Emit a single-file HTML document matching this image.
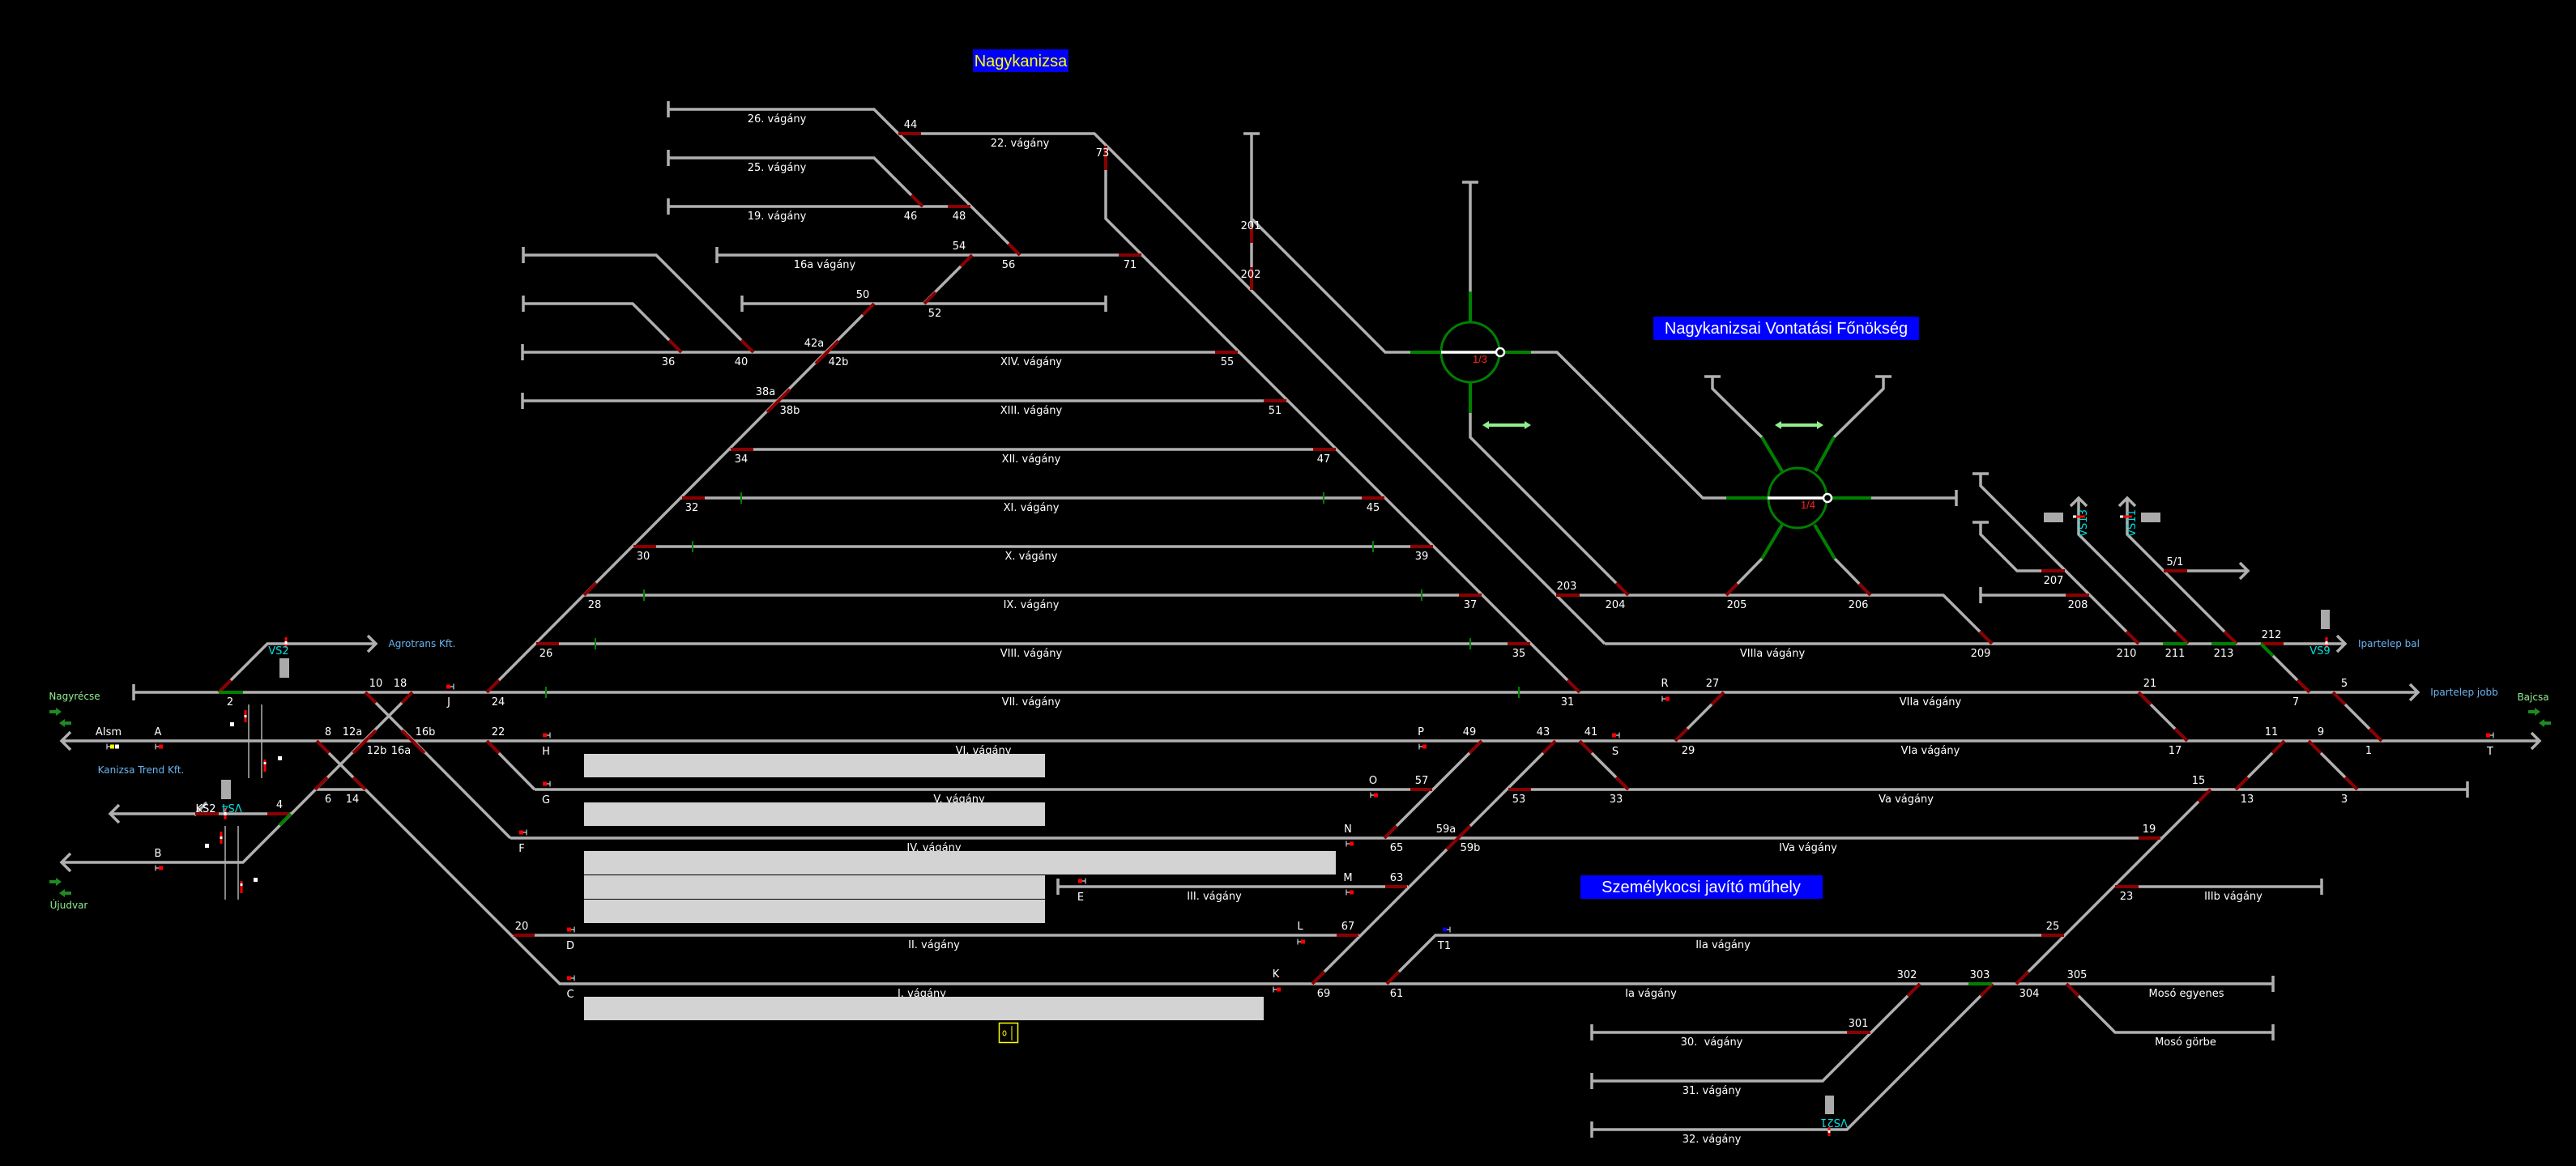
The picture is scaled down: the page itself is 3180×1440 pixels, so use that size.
<!DOCTYPE html>
<html>
<head>
<meta charset="utf-8">
<style>
html,body{margin:0;padding:0;background:#000;}
svg{display:block;}
text{font-family:"DejaVu Sans","Liberation Sans",sans-serif;font-size:13px;fill:#fff;text-anchor:middle;}
.lb{fill:#6ab4f0;font-size:12px;}
.lg{fill:#90ee90;font-size:12px;}
.cy{fill:#00e0e0;font-size:13px;}
.big{font-family:"Liberation Sans",sans-serif;font-size:20px;}
.rd{fill:#ff2020;font-family:"Liberation Sans",sans-serif;font-size:13px;}
</style>
</head>
<body>
<svg width="3180" height="1440" viewBox="0 0 3180 1440" xmlns="http://www.w3.org/2000/svg">
<rect width="3180" height="1440" fill="#000"/>

<!-- gray tracks -->
<g stroke="#b0b0b0" stroke-width="3.5" fill="none" stroke-linejoin="miter">
<path d="M825,135 H1079 L1259,315"/>
<path d="M1109,165 H1351 L1981,795"/>
<path d="M1365,179 V270 L1950,855"/>
<path d="M825,195 H1079 L1139,255"/>
<path d="M825,255 H1199"/>
<path d="M885,315 H1410"/>
<path d="M916,375 H1365"/>
<path d="M1200,315 L1140,375"/>
<path d="M1079,375 L601,855"/>
<path d="M646,315 H810 L930,435"/>
<path d="M646,375 H781 L841,435"/>
<path d="M645,435 H1530"/>
<path d="M645,495 H1590"/>
<path d="M901,555 H1650"/>
<path d="M841,615 H1710"/>
<path d="M781,675 H1770"/>
<path d="M721,735 H1830"/>
<path d="M661,795 H1890"/>
<path d="M165,855 H2985"/>
<path d="M76,915 H3135"/>
<path d="M1545,165 V358"/>
<path d="M1545,270 L1710,435 H1741"/>
<path d="M1815,225 V360"/>
<path d="M1815,510 V540 L2010,735"/>
<path d="M1890,435 H1922 L2102,615 H2131"/>
<path d="M2310,615 H2415"/>
<path d="M2175,540 L2114,480 V465"/>
<path d="M2264,540 L2325,480 V465"/>
<path d="M2175,690 L2131,735"/>
<path d="M2265,690 L2309,735"/>
<path d="M1921,735 H2399 L2459,795"/>
<path d="M2445,585 V600 L2640,795"/>
<path d="M2445,645 V660 L2490,705 H2550"/>
<path d="M2445,735 H2580"/>
<path d="M2566,615 V660 L2701,795"/>
<path d="M2626,615 V660 L2761,795"/>
<path d="M2671,705 H2775"/>
<path d="M1981,795 H2895"/>
<path d="M2791,795 L2851,855"/>
<path d="M2128,855 L2068,915"/>
<path d="M2640,855 L2700,915"/>
<path d="M2880,855 L2940,915"/>
<path d="M2820,915 L2760,975"/>
<path d="M2850,915 L2910,975"/>
<path d="M2729,975 L2489,1215"/>
<path d="M1862,975 H3046"/>
<path d="M660,975 H1769"/>
<path d="M601,915 L660,975"/>
<path d="M630,1035 H2668"/>
<path d="M451,855 L630,1035"/>
<path d="M1306,1095 H1738"/>
<path d="M2611,1095 H2866"/>
<path d="M634,1155 H1678"/>
<path d="M1712,1215 L1772,1155 H2549"/>
<path d="M690,1215 H2806"/>
<path d="M391,915 L691,1215"/>
<path d="M1920,915 L1620,1215"/>
<path d="M1829,915 L1709,1035"/>
<path d="M1950,915 L2010,975"/>
<path d="M2551,1215 L2611,1275 H2806"/>
<path d="M2370,1215 L2250,1335 H1965"/>
<path d="M1965,1275 H2310"/>
<path d="M2460,1215 L2280,1395 H1965"/>
<path d="M270,855 L330,795 H464"/>
<path d="M509,855 L300,1065 H76"/>
<path d="M136,1005 H359"/>
<path d="M240,1007 L255,991"/>
<path d="M389,975 H451"/>
<!-- bufferstops vertical -->
<path d="M825,125V145 M825,185V205 M825,245V265 M885,305V325 M916,365V385 M1365,365V385 M646,305V325 M646,365V385 M645,425V445 M645,485V505 M165,845V865 M2415,605V625 M2445,725V745 M3046,965V985 M1306,1085V1105 M2866,1085V1105 M2806,1205V1225 M2806,1265V1285 M1965,1265V1285 M1965,1325V1345 M1965,1385V1405"/>
<!-- bufferstops horizontal -->
<path d="M1535,165H1555 M1805,225H1825 M2104,465H2124 M2315,465H2335 M2435,585H2455 M2435,645H2455"/>
<!-- arrows -->
<path d="M454,785 L464,795 L454,805"/>
<path d="M87,904 L76,915 L87,926"/>
<path d="M147,994 L136,1005 L147,1016"/>
<path d="M87,1054 L76,1065 L87,1076"/>
<path d="M2885,785 L2895,795 L2885,805"/>
<path d="M2975,845 L2985,855 L2975,865"/>
<path d="M3125,905 L3135,915 L3125,925"/>
<path d="M2765,695 L2775,705 L2765,715"/>
<path d="M2556,625 L2566,615 L2576,625"/>
<path d="M2616,625 L2626,615 L2636,625"/>
</g>

<!-- level crossing thin lines -->
<g stroke="#b0b0b0" stroke-width="1.5">
<path d="M307,870V961 M323,870V961 M278,1020V1111 M294,1020V1111"/>
</g>

<!-- red switch segments -->
<g stroke="#8b0000" stroke-width="4" fill="none">
<path d="M1109,165H1137 M1170,255H1198 M1381,315H1409 M1500,435H1528 M1560,495H1588 M902,555H930 M1621,555H1649 M842,615H870 M1681,615H1709 M782,675H810 M1741,675H1769 M1801,735H1829 M662,795H690 M1861,795H1889 M1921,735H1950 M2520,705H2549 M2550,735H2579 M2671,705H2700 M2791,795H2819 M1741,975H1768 M1862,975H1890 M2640,1035H2667 M1710,1095H1737 M2611,1095H2640 M634,1155H660 M1650,1155H1677 M2520,1155H2548 M2280,1275H2309 M241,1005H270 M330,1005H358"/>
<path d="M1365,180V210 M1545,280V300 M1545,330V358"/>
<path d="M1245,301L1259,315 M1125,241L1139,255 M1200,315L1186,329 M1141,375L1155,361 M1079,375L1065,389 M1035,421L1021,435 M1021,435L1007,449 M915,420L930,435 M826,420L841,435 M975,481L961,495 M961,495L947,509 M721,735L736,720 M601,855L616,840 M1935,840L1950,855 M1995,720L2010,735 M2131,735L2145,721 M2295,721L2309,735 M2444,780L2459,795 M2625,780L2640,795 M2686,780L2701,795 M2746,780L2761,795 M2836,840L2851,855 M2128,855L2113,870 M2068,915L2083,900 M2640,855L2655,870 M2685,900L2700,915 M2880,855L2895,870 M2925,900L2940,915 M2820,915L2805,930 M2760,975L2775,960 M2850,915L2865,930 M2895,960L2910,975 M2729,975L2714,990 M2489,1215L2504,1200 M1829,915L1814,930 M1709,1035L1724,1020 M1920,915L1905,930 M1815,1020L1800,1035 M1800,1035L1786,1049 M1620,1215L1635,1200 M1950,915L1965,930 M1995,960L2010,975 M1712,1215L1727,1200 M2370,1215L2355,1230 M2460,1215L2445,1230 M2551,1215L2566,1230 M270,855L285,840 M451,855L464,868 M509,855L496,868 M464,902L451,915 M451,915L436,930 M496,902L509,915 M509,915L524,930 M391,915L406,930 M404,960L389,975 M436,960L451,975 M601,915L616,930"/>
</g>

<!-- green segments -->
<g stroke="#008000" stroke-width="4" fill="none">
<path d="M270,855H300 M1741,435H1779 M1852,435H1890 M1815,360V398 M1815,472V510 M2131,615H2182 M2256,615H2310 M2200,582L2175,540 M2241,582L2264,540 M2200,648L2175,690 M2240,648L2265,690 M2670,795H2700 M2730,795H2760 M2791,795L2806,810 M2430,1215H2459 M359,1005L345,1019"/>
</g>
<g stroke="#008000" stroke-width="2">
<path d="M674,848V862 M735,788V802 M795,728V742 M855,668V682 M915,608V622 M1634,608V622 M1695,668V682 M1755,728V742 M1815,788V802 M1875,848V862"/>
</g>

<!-- turntables -->
<ellipse cx="1815" cy="435" rx="36" ry="37" fill="none" stroke="#008000" stroke-width="3"/>
<ellipse cx="2219" cy="615" rx="36" ry="37" fill="none" stroke="#008000" stroke-width="3"/>
<path d="M1779,435H1848 M2182,615H2252" stroke="#fff" stroke-width="3.5"/>
<circle cx="1852" cy="435" r="5" fill="#000" stroke="#fff" stroke-width="2.5"/>
<circle cx="2256" cy="615" r="5" fill="#000" stroke="#fff" stroke-width="2.5"/>
<text x="1827" y="448" class="rd">1/3</text>
<text x="2232" y="628" class="rd">1/4</text>

<!-- light green double arrows -->
<g fill="#90ee90" stroke="none">
<rect x="1836" y="523" width="48" height="4"/>
<polygon points="1830,525 1838,520 1838,530"/>
<polygon points="1890,525 1882,520 1882,530"/>
<rect x="2197" y="523" width="48" height="4"/>
<polygon points="2191,525 2199,520 2199,530"/>
<polygon points="2251,525 2243,520 2243,530"/>
</g>

<!-- direction arrows (dark green) -->
<g fill="#1f8a1f">
<rect x="61" y="877" width="9" height="4"/><polygon points="69,874 76,879 69,884"/>
<rect x="79" y="891" width="9" height="4"/><polygon points="80,888 73,893 80,898"/>
<rect x="61" y="1087" width="9" height="4"/><polygon points="69,1084 76,1089 69,1094"/>
<rect x="79" y="1101" width="9" height="4"/><polygon points="80,1098 73,1103 80,1108"/>
<rect x="3121" y="877" width="9" height="4"/><polygon points="3129,874 3136,879 3129,884"/>
<rect x="3140" y="891" width="9" height="4"/><polygon points="3141,888 3134,893 3141,898"/>
</g>

<!-- gray signal boxes -->
<g fill="#aaaaaa">
<rect x="345" y="813" width="12" height="24"/>
<rect x="273" y="963" width="12" height="24"/>
<rect x="2523" y="633" width="24" height="12"/>
<rect x="2643" y="633" width="24" height="12"/>
<rect x="2865" y="753" width="11" height="24"/>
<rect x="2253" y="1353" width="11" height="23"/>
</g>

<!-- red/white poles -->
<g>
<rect x="351.5" y="787" width="3" height="13" fill="#ff0000"/><rect x="351.5" y="792" width="3" height="4" fill="#fff"/>
<rect x="2870.5" y="787" width="3" height="13" fill="#ff0000"/><rect x="2870.5" y="792" width="3" height="4" fill="#fff"/>
<rect x="276.5" y="998" width="3" height="14" fill="#ff0000"/><rect x="276.5" y="1003" width="3" height="4" fill="#fff"/>
<rect x="2256.5" y="1392" width="3" height="11" fill="#ff0000"/><rect x="2256.5" y="1396" width="3" height="3" fill="#fff"/>
<rect x="2559" y="636.5" width="15" height="3" fill="#ff0000"/><rect x="2559" y="636.5" width="4" height="3" fill="#fff"/>
<rect x="2617" y="636.5" width="15" height="3" fill="#ff0000"/><rect x="2617" y="636.5" width="4" height="3" fill="#fff"/>
<rect x="301.5" y="877" width="3" height="15" fill="#ff0000"/><rect x="301.5" y="883" width="3" height="3" fill="#fff"/>
<rect x="325.5" y="938" width="3" height="15" fill="#ff0000"/><rect x="325.5" y="941" width="3" height="3" fill="#fff"/>
<rect x="271.5" y="1027" width="3" height="15" fill="#ff0000"/><rect x="271.5" y="1033" width="3" height="3" fill="#fff"/>
<rect x="296.5" y="1088" width="3" height="15" fill="#ff0000"/><rect x="296.5" y="1091" width="3" height="3" fill="#fff"/>
</g>
<g fill="#fff">
<rect x="284" y="892" width="5" height="5"/>
<rect x="343" y="934" width="5" height="5"/>
<rect x="253" y="1042" width="5" height="5"/>
<rect x="313" y="1084" width="5" height="5"/>
</g>

<!-- dwarf signals -->
<g stroke="#d0d0d0" stroke-width="1.2" fill="none">
<path d="M132,918.5V925.5 M132,922H136"/>
<path d="M192,918.5V925.5 M192,922H196"/>
<path d="M192,1068.5V1075.5 M192,1072H196"/>
<path d="M560,844.5V851.5 M556,848H560"/>
<path d="M679,904.5V911.5 M675,908H679"/>
<path d="M679,964.5V971.5 M675,968H679"/>
<path d="M650,1024.5V1031.5 M646,1028H650"/>
<path d="M709,1144.5V1151.5 M705,1148H709"/>
<path d="M709,1204.5V1211.5 M705,1208H709"/>
<path d="M1340,1084.5V1091.5 M1336,1088H1340"/>
<path d="M1602,1159.5V1166.5 M1602,1163H1606"/>
<path d="M1572,1218.5V1225.5 M1572,1222H1576"/>
<path d="M1752,918.5V925.5 M1752,922H1756"/>
<path d="M1692,978.5V985.5 M1692,982H1696"/>
<path d="M1662,1038.5V1045.5 M1662,1042H1666"/>
<path d="M1662,1098.5V1105.5 M1662,1102H1666"/>
<path d="M1999,904.5V911.5 M1995,908H1999"/>
<path d="M1790,1144.5V1151.5 M1786,1148H1790"/>
<path d="M2052,859.5V866.5 M2052,863H2056"/>
<path d="M3078,904.5V911.5 M3074,908H3078"/>
</g>
<g fill="#ff0000">
<rect x="196" y="919.5" width="5" height="5"/>
<rect x="196" y="1069.5" width="5" height="5"/>
<rect x="551" y="845.5" width="5" height="5"/>
<rect x="670" y="905.5" width="5" height="5"/>
<rect x="670" y="965.5" width="5" height="5"/>
<rect x="641" y="1025.5" width="5" height="5"/>
<rect x="700" y="1145.5" width="5" height="5"/>
<rect x="700" y="1205.5" width="5" height="5"/>
<rect x="1331" y="1085.5" width="5" height="5"/>
<rect x="1606" y="1160.5" width="5" height="5"/>
<rect x="1576" y="1219.5" width="5" height="5"/>
<rect x="1756" y="919.5" width="5" height="5"/>
<rect x="1696" y="979.5" width="5" height="5"/>
<rect x="1666" y="1039.5" width="5" height="5"/>
<rect x="1666" y="1099.5" width="5" height="5"/>
<rect x="1990" y="905.5" width="5" height="5"/>
<rect x="2056" y="860.5" width="5" height="5"/>
<rect x="3069" y="905.5" width="5" height="5"/>
</g>
<rect x="136" y="919.5" width="5" height="5" fill="#ffff00"/>
<rect x="142" y="919.5" width="5" height="5" fill="#fff"/>
<rect x="1781" y="1145.5" width="5" height="5" fill="#0000ff"/>

<!-- yellow box -->
<rect x="1233.5" y="1263.5" width="23" height="24" fill="none" stroke="#ffff00" stroke-width="1.5"/>
<ellipse cx="1240" cy="1276" rx="2" ry="3" fill="none" stroke="#ffff00" stroke-width="1"/>
<path d="M1249,1267V1285" stroke="#ffff00" stroke-width="1"/>

<!-- labels: white -->
<g>
<text x="959" y="151">26. vágány</text>
<text x="1124" y="158">44</text>
<text x="1259" y="181">22. vágány</text>
<text x="1361" y="193">73</text>
<text x="959" y="211">25. vágány</text>
<text x="959" y="271">19. vágány</text>
<text x="1124" y="271">46</text>
<text x="1184" y="271">48</text>
<text x="1184" y="308">54</text>
<text x="1018" y="331">16a vágány</text>
<text x="1245" y="331">56</text>
<text x="1395" y="331">71</text>
<text x="1065" y="368">50</text>
<text x="1154" y="391">52</text>
<text x="1544" y="283">201</text>
<text x="1544" y="343">202</text>
<text x="1005" y="428">42a</text>
<text x="825" y="451">36</text>
<text x="915" y="451">40</text>
<text x="1035" y="451">42b</text>
<text x="1273" y="451">XIV. vágány</text>
<text x="1515" y="451">55</text>
<text x="945" y="488">38a</text>
<text x="975" y="511">38b</text>
<text x="1273" y="511">XIII. vágány</text>
<text x="1574" y="511">51</text>
<text x="915" y="571">34</text>
<text x="1273" y="571">XII. vágány</text>
<text x="1634" y="571">47</text>
<text x="854" y="631">32</text>
<text x="1273" y="631">XI. vágány</text>
<text x="1695" y="631">45</text>
<text x="794" y="691">30</text>
<text x="1273" y="691">X. vágány</text>
<text x="1755" y="691">39</text>
<text x="2685" y="698">5/1</text>
<text x="2535" y="721">207</text>
<text x="1934" y="728">203</text>
<text x="734" y="751">28</text>
<text x="1273" y="751">IX. vágány</text>
<text x="1815" y="751">37</text>
<text x="1994" y="751">204</text>
<text x="2144" y="751">205</text>
<text x="2294" y="751">206</text>
<text x="2565" y="751">208</text>
<text x="2804" y="788">212</text>
<text x="674" y="811">26</text>
<text x="1273" y="811">VIII. vágány</text>
<text x="1875" y="811">35</text>
<text x="2188" y="811">VIIIa vágány</text>
<text x="2445" y="811">209</text>
<text x="2625" y="811">210</text>
<text x="2685" y="811">211</text>
<text x="2745" y="811">213</text>
<text x="464" y="848">10</text>
<text x="494" y="848">18</text>
<text x="2055" y="848">R</text>
<text x="2114" y="848">27</text>
<text x="2654" y="848">21</text>
<text x="2894" y="848">5</text>
<text x="284" y="871">2</text>
<text x="554" y="871">J</text>
<text x="615" y="871">24</text>
<text x="1273" y="871">VII. vágány</text>
<text x="1935" y="871">31</text>
<text x="2383" y="871">VIIa vágány</text>
<text x="2834" y="871">7</text>
<text x="134" y="908">AIsm</text>
<text x="195" y="908">A</text>
<text x="405" y="908">8</text>
<text x="435" y="908">12a</text>
<text x="525" y="908">16b</text>
<text x="615" y="908">22</text>
<text x="1754" y="908">P</text>
<text x="1814" y="908">49</text>
<text x="1905" y="908">43</text>
<text x="1964" y="908">41</text>
<text x="2804" y="908">11</text>
<text x="2865" y="908">9</text>
<text x="465" y="931">12b</text>
<text x="495" y="931">16a</text>
<text x="674" y="932">H</text>
<text x="1214" y="931">VI. vágány</text>
<text x="1994" y="932">S</text>
<text x="2084" y="931">29</text>
<text x="2383" y="931">VIa vágány</text>
<text x="2685" y="931">17</text>
<text x="2924" y="931">1</text>
<text x="3074" y="932">T</text>
<text x="1695" y="968">O</text>
<text x="1755" y="968">57</text>
<text x="2714" y="968">15</text>
<text x="405" y="991">6</text>
<text x="435" y="991">14</text>
<text x="674" y="992">G</text>
<text x="1184" y="991">V. vágány</text>
<text x="1875" y="991">53</text>
<text x="1995" y="991">33</text>
<text x="2353" y="991">Va vágány</text>
<text x="2774" y="991">13</text>
<text x="2894" y="991">3</text>
<text x="345" y="998">4</text>
<text x="254" y="1003">KS2</text>
<text x="1664" y="1028">N</text>
<text x="1785" y="1028">59a</text>
<text x="2653" y="1028">19</text>
<text x="644" y="1052">F</text>
<text x="1153" y="1051">IV. vágány</text>
<text x="1724" y="1051">65</text>
<text x="1815" y="1051">59b</text>
<text x="2232" y="1051">IVa vágány</text>
<text x="195" y="1058">B</text>
<text x="1664" y="1088">M</text>
<text x="1724" y="1088">63</text>
<text x="1334" y="1112">E</text>
<text x="1499" y="1111">III. vágány</text>
<text x="2625" y="1111">23</text>
<text x="2757" y="1111">IIIb vágány</text>
<text x="644" y="1148">20</text>
<text x="1605" y="1148">L</text>
<text x="1664" y="1148">67</text>
<text x="2534" y="1148">25</text>
<text x="704" y="1172">D</text>
<text x="1153" y="1171">II. vágány</text>
<text x="1783" y="1172">T1</text>
<text x="2127" y="1171">IIa vágány</text>
<text x="1575" y="1207">K</text>
<text x="2354" y="1208">302</text>
<text x="2444" y="1208">303</text>
<text x="2564" y="1208">305</text>
<text x="704" y="1232">C</text>
<text x="1138" y="1231">I. vágány</text>
<text x="1634" y="1231">69</text>
<text x="1724" y="1231">61</text>
<text x="2038" y="1231">Ia vágány</text>
<text x="2505" y="1231">304</text>
<text x="2699" y="1231">Mosó egyenes</text>
<text x="2294" y="1268">301</text>
<text x="2113" y="1291">30.&#160; vágány</text>
<text x="2698" y="1291">Mosó görbe</text>
<text x="2113" y="1351">31. vágány</text>
<text x="2113" y="1411">32. vágány</text>
</g>

<!-- colored labels -->
<text x="521" y="799" class="lb">Agrotrans Kft.</text>
<text x="174" y="955" class="lb">Kanizsa Trend Kft.</text>
<text x="2949" y="799" class="lb">Ipartelep bal</text>
<text x="3042" y="859" class="lb">Ipartelep jobb</text>
<text x="92" y="864" class="lg">Nagyrécse</text>
<text x="85" y="1122" class="lg">Újudvar</text>
<text x="3127" y="865" class="lg">Bajcsa</text>
<text x="344" y="808" class="cy">VS2</text>
<text x="2864" y="808" class="cy">VS9</text>
<text x="286" y="1003" class="cy" transform="rotate(180 286 998)">VS4</text>
<text x="2264" y="1392" class="cy" transform="rotate(180 2264 1387)">VS21</text>
<text x="2571" y="651" class="cy" transform="rotate(-90 2571 646)">VS13</text>
<text x="2631" y="651" class="cy" transform="rotate(-90 2631 646)">VS11</text>

<!-- platforms -->
<g fill="#d3d3d3">
<rect x="721" y="931" width="569" height="29"/>
<rect x="721" y="991" width="569" height="29"/>
<rect x="721" y="1051" width="928" height="29"/>
<rect x="721" y="1081" width="569" height="29"/>
<rect x="721" y="1111" width="569" height="29"/>
<rect x="721" y="1231" width="839" height="29"/>
</g>

<!-- title boxes -->
<rect x="1201" y="61" width="118" height="28" fill="#0000ff"/>
<text x="1260" y="82" class="big" style="fill:#ffff00">Nagykanizsa</text>
<rect x="2041" y="391" width="328" height="29" fill="#0000ff"/>
<text x="2205" y="412" class="big">Nagykanizsai Vontatási Főnökség</text>
<rect x="1951" y="1081" width="299" height="29" fill="#0000ff"/>
<text x="2100" y="1102" class="big">Személykocsi javító műhely</text>
</svg>
</body>
</html>
